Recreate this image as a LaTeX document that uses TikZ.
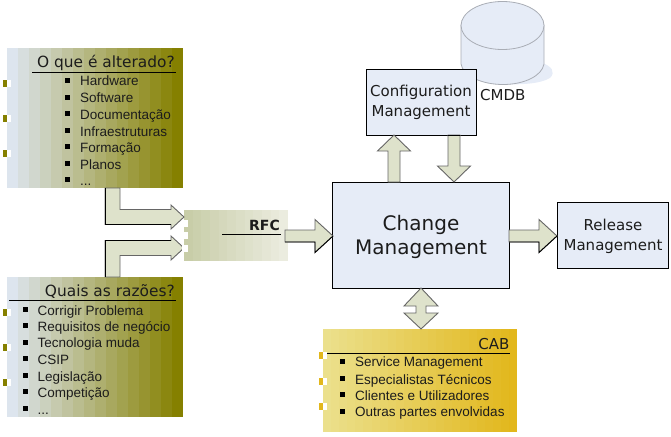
\documentclass[tikz,border=0pt]{standalone}
\usepackage{fontspec}
\setmainfont{DejaVu Sans}
\newfontfamily\listfont{Liberation Sans}
\usetikzlibrary{calc}
\definecolor{panelblue}{HTML}{E6ECF7}
\definecolor{arrowfill}{HTML}{DEE2CB}
\definecolor{arrowedge}{HTML}{666666}
\definecolor{inkdark}{HTML}{1C1C1C}
\definecolor{greyblue}{HTML}{DDE5EE}
\definecolor{olive}{HTML}{858000}
\definecolor{sandlight}{HTML}{EBE08C}
\definecolor{goldstrong}{HTML}{E2B71C}
\definecolor{sagedark}{HTML}{C8CDA8}
\definecolor{sagelight}{HTML}{EBECDF}
\definecolor{cylline}{HTML}{A9ADB5}
\newcommand{\dotstxt}{...}
\tikzset{
  panel/.style={draw=black,line width=1pt,fill=panelblue,inner sep=0pt,outer sep=0pt,align=center,text=inkdark},
  framebox/.style={inner sep=0pt,outer sep=0pt},
  blockarrow/.style={draw=arrowedge,line width=.9pt,fill=arrowfill,line join=miter},
  edgeline/.style={draw=black,line width=.9pt},
  heading/.style={anchor=base east,inner sep=0pt,font=\fontsize{15.4}{15.4}\selectfont,text=inkdark},
  listitem/.style={anchor=base west,inner sep=0pt,font=\listfont\fontsize{13.5}{13.5}\selectfont,text=inkdark},
  paneltext/.style={anchor=base,inner sep=0pt,text=inkdark},
}
% stepped colour fill: #1,#2 = corners, #3 = steps, #4,#5 = left and right colours
\newcommand{\bandfill}[5]{%
  \path let \p1=(#1), \p2=(#2) in \pgfextra{\xdef\bandL{\x1}\xdef\bandR{\x2}\xdef\bandT{\y1}\xdef\bandB{\y2}};
  \foreach \i in {1,...,#3}{
    \pgfmathsetmacro{\mixv}{(\i-1)/(#3-1)*100}
    \pgfmathsetmacro{\xa}{\bandL+(\bandR-\bandL)*(\i-1)/#3}
    \pgfmathsetmacro{\xb}{\bandL+(\bandR-\bandL)*\i/#3+0.3}
    \fill[#5!\mixv!#4] (\xa pt,\bandT) rectangle (\xb pt,\bandB);
  }
}
% horizontal block arrow from #1 to tip #2
\newcommand{\arrowRight}[2]{%
  \draw[blockarrow] let \p1=(#1), \p2=(#2) in
    (\x1,\y2+6pt) -- (\x2-18pt,\y2+6pt) -- (\x2-18pt,\y2+16.5pt) -- (\x2,\y2)
    -- (\x2-18pt,\y2-16.5pt) -- (\x2-18pt,\y2-6pt) -- (\x1,\y2-6pt) -- cycle;
  \draw[edgeline] let \p1=(#1), \p2=(#2) in (\x1,\y2-6pt) -- (\x2-18pt,\y2-6pt) -- (\x2-18pt,\y2-16.5pt) -- (\x2,\y2);
}
% vertical block arrow from #1 to tip #2
\newcommand{\arrowVert}[2]{%
  \draw[blockarrow] let \p1=(#1), \p2=(#2), \n1={sign(\y1-\y2)*16pt} in
    (\x2-6pt,\y1) -- (\x2-6pt,\y2+\n1) -- (\x2-16.5pt,\y2+\n1) -- (\x2,\y2)
    -- (\x2+16.5pt,\y2+\n1) -- (\x2+6pt,\y2+\n1) -- (\x2+6pt,\y1) -- cycle;
}
% elbow block arrow leaving #1 vertically and ending with its tip at #2
\newcommand{\arrowElbow}[2]{%
  \draw[blockarrow] let \p1=(#1), \p2=(#2), \n1={sign(\y1-\y2)*7.5pt} in
    (\x1-7.5pt,\y1) -- (\x1-7.5pt,\y2-\n1) -- (\x2-13pt,\y2-\n1) -- (\x2-13pt,\y2-\n1-\n1*0.6)
    -- (\x2,\y2) -- (\x2-13pt,\y2+\n1+\n1*0.6) -- (\x2-13pt,\y2+\n1) -- (\x1+7.5pt,\y2+\n1)
    -- (\x1+7.5pt,\y1) -- cycle;
  \draw[edgeline] let \p1=(#1), \p2=(#2), \n1={sign(\y1-\y2)*7.5pt} in
    (\x1-7.5pt,\y1) -- (\x1-7.5pt,\y2-\n1) -- (\x2-13pt,\y2-\n1);
}
\begin{document}
\begin{tikzpicture}[x=1pt,y=-1pt]
\useasboundingbox (0,0) rectangle (671,436);

% configuration database cylinder
\fill[panelblue] (470,62) -- (540,62) .. controls (552,66) and (556,72) .. (550,78) .. controls (540,84) and (520,85) .. (500,84) -- cycle;
\draw[cylline,fill=panelblue,line width=.8pt] (461,25) -- (461,64) .. controls (463,76) and (482,84.5) .. (503,84.5)
   .. controls (524,84.5) and (542,76) .. (544,64) -- (544,25) -- cycle;
\draw[cylline,fill=panelblue,line width=.8pt] (502.5,25.5) ellipse[x radius=41.5,y radius=24];

% stepped backgrounds of the lists and of the RFC box
\coordinate (b1tl) at (7,48);   \coordinate (b1br) at (183,188);
\coordinate (b2tl) at (7,277);  \coordinate (b2br) at (183,417);
\coordinate (rftl) at (184,210);\coordinate (rfbr) at (288,261);
\coordinate (cbtl) at (323,329);\coordinate (cbbr) at (517,432);
\bandfill{b1tl}{b1br}{16}{greyblue}{olive}
\bandfill{b2tl}{b2br}{16}{greyblue}{olive}
\bandfill{rftl}{rfbr}{12}{sagedark}{sagelight}
\bandfill{cbtl}{cbbr}{24}{sandlight}{goldstrong}

\node[framebox,minimum width=176pt,minimum height=140pt] (changed) at (95,118) {};
\node[framebox,minimum width=176pt,minimum height=140pt] (reasons) at (95,347) {};
\node[framebox,minimum width=104pt,minimum height=51pt] (rfc) at (236,235.5) {};
\node[framebox,minimum width=194pt,minimum height=103pt] (cab) at (420,380.5) {};

% process boxes
\node[panel,minimum width=110pt,minimum height=66pt] (config) at (421,102) {};
\node[panel,minimum width=177pt,minimum height=106pt] (change) at (420.5,235) {};
\node[panel,minimum width=111pt,minimum height=66pt] (release) at (612.5,235) {};

\node[paneltext,font=\fontsize{15}{15}\selectfont] (cfgA) at (421,96.7) {Configuration};
\node[paneltext,font=\fontsize{15}{15}\selectfont] (cfgB) at (421,116) {Management};
\node[paneltext,font=\fontsize{15}{15}\selectfont,anchor=base west] (cmdb) at (480,100) {CMDB};
\node[paneltext,font=\fontsize{20}{20}\selectfont] (chgA) at (421,230) {Change};
\node[paneltext,font=\fontsize{20}{20}\selectfont] (chgB) at (421,254) {Management};
\node[paneltext,font=\fontsize{15}{15}\selectfont] (relA) at (613,230.7) {Release};
\node[paneltext,font=\fontsize{15}{15}\selectfont] (relB) at (613,250) {Management};

% block arrows between the boxes
\coordinate (changedOut) at (112.5,188);
\coordinate (reasonsOut) at (112.5,277);
\coordinate (rfcInA) at (184,217);
\coordinate (rfcInB) at (184,248);
\arrowElbow{changedOut}{rfcInA}
\arrowElbow{reasonsOut}{rfcInB}
\coordinate (rfcOut) at (285,236);
\coordinate (changeIn) at (333,236);
\arrowRight{rfcOut}{changeIn}
\coordinate (chgOut) at (509,236);
\coordinate (relIn) at (557,236);
\arrowRight{chgOut}{relIn}
\coordinate (upFrom) at (394,182);
\coordinate (upTip) at (394,135);
\arrowVert{upFrom}{upTip}
\coordinate (downFrom) at (454,135);
\coordinate (downTip) at (454,182);
\arrowVert{downFrom}{downTip}
\draw[edgeline] (448,135) -- (460,135);
% two-headed arrow between Change Management and CAB
\coordinate (biTop) at (421,288);
\coordinate (biBot) at (421,329);
\draw[blockarrow] let \p1=(biTop), \p2=(biBot) in
  (\x1,\y1) -- (\x1+17pt,\y1-18pt) -- (\x1+5pt,\y1-18pt) -- (\x1+5pt,\y2+16pt) -- (\x1+17pt,\y2+16pt)
  -- (\x2,\y2) -- (\x1-17pt,\y2+16pt) -- (\x1-5pt,\y2+16pt) -- (\x1-5pt,\y1-18pt) -- (\x1-17pt,\y1-18pt) -- cycle;

% margin tabs
\foreach \y in {83,118,153,312,347,382}{
  \fill[olive] (3,\y-3.5) rectangle (7,\y+3.5);
  \fill[white] (7,\y-3.5) rectangle (10.5,\y+3.5);
}
\foreach \y in {355,381,406}{
  \fill[goldstrong] (319,\y-3.5) rectangle (323,\y+3.5);
  \fill[white] (323,\y-3.5) rectangle (327,\y+3.5);
}
\foreach \y in {223,235,248}{
  \fill[white] (181.5,\y-3.5) rectangle (188,\y+3.5);
}

% list headings and rules
\node[heading] (t1) at (175,67) {O que é alterado?};
\draw[black,line width=.8pt] (32,72.5) -- (176,72.5);
\node[heading] (t2) at (175,296) {Quais as razões?};
\draw[black,line width=.8pt] (9,300.5) -- (176,300.5);
\node[heading,font=\bfseries\fontsize{14}{14}\selectfont] (t3) at (280,230) {RFC};
\draw[black,line width=.8pt] (222,234.5) -- (281,234.5);
\node[heading,font=\fontsize{15}{15}\selectfont] (t4) at (509.5,349) {CAB};
\draw[black,line width=.8pt] (327,353.5) -- (510,353.5);

% list entries
\foreach \n/\y/\t in {1/85.7/Hardware,2/102.7/Software,3/119.3/Documentação,4/136/Infraestruturas,5/152/Formação,6/169/Planos,7/185/\dotstxt}{
  \fill[black] (65,\y-8) rectangle (70,\y-3);
  \node[listitem] (changed\n) at (80,\y) {\t};
}
\foreach \n/\y/\t in {1/315/Corrigir Problema,2/331/Requisitos de negócio,3/347.7/Tecnologia muda,4/364/CSIP,5/381/Legislação,6/397/Competição,7/414/\dotstxt}{
  \fill[black] (23,\y-8) rectangle (28,\y-3);
  \node[listitem] (reason\n) at (37.5,\y) {\t};
}
\foreach \n/\y/\t in {1/366.7/Service Management,2/384/Especialistas Técnicos,3/400/Clientes e Utilizadores,4/416.7/Outras partes envolvidas}{
  \fill[black] (340,\y-8) rectangle (345,\y-3);
  \node[listitem] (cabitem\n) at (355,\y) {\t};
}
\end{tikzpicture}
\end{document}
